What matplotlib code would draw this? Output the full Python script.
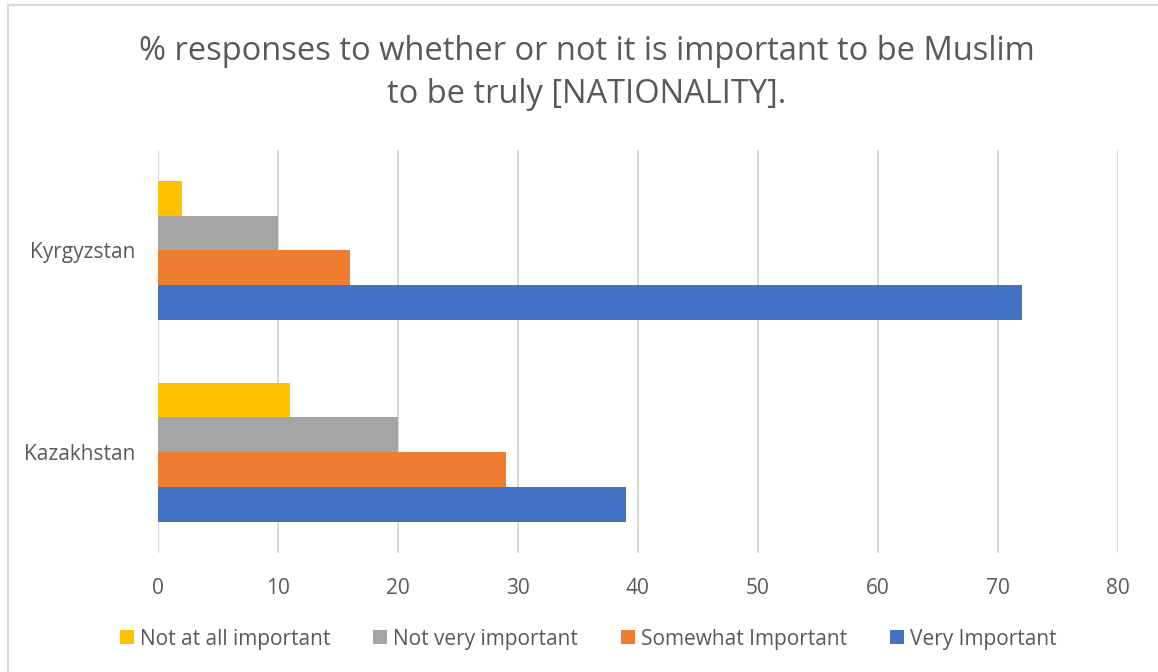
import numpy as np
import matplotlib.pyplot as plt
from matplotlib.patches import Rectangle

# survey shares (%) per country and answer
countries = ['Kazakhstan', 'Kyrgyzstan']
answers = ['Not at all important', 'Not very important', 'Somewhat Important', 'Very Important']
not_at_all = [11, 2]
not_very = [20, 10]
somewhat = [29, 16]
very = [39, 72]
x_ticks = [0, 10, 20, 30, 40, 50, 60, 70, 80]

colors = ['#FFC000', '#A5A5A5', '#ED7D31', '#4472C4']
text_color = '#595959'
grid_color = '#D9D9D9'

plt.rcParams['font.family'] = ['Open Sans', 'DejaVu Sans']

fig = plt.figure(figsize=(11.58, 6.72), dpi=100)
ax = fig.add_axes([0.1362, 0.1771, 0.8291, 0.6004])

# chart border
fig.patches.append(Rectangle((8 / 1158, -0.05), 1.2, 1 - 5 / 672 + 0.05,
                             transform=fig.transFigure, fill=False,
                             edgecolor=grid_color, linewidth=1.6))

y = np.arange(len(countries))
h = 0.172
series = [not_at_all, not_very, somewhat, very]
offsets = [1.5 * h, 0.5 * h, -0.5 * h, -1.5 * h]
for vals, off, col, lab in zip(series, offsets, colors, answers):
    ax.barh(y + off, vals, height=h, color=col, label=lab, zorder=3)

ax.set_xlim(0, 80)
ax.set_ylim(-0.5, 1.5)
ax.set_xticks(x_ticks)
ax.set_yticks(y)
ax.set_yticklabels(countries)
ax.tick_params(axis='both', length=0, labelsize=15, labelcolor=text_color)
ax.tick_params(axis='x', pad=18)
ax.tick_params(axis='y', pad=16)
ax.grid(axis='x', color=grid_color, linewidth=1.5, zorder=0)
for s in ax.spines.values():
    s.set_visible(False)

fig.text(0.507, 0.891, '% responses to whether or not it is important to be Muslim\nto be truly [NATIONALITY].',
         ha='center', va='center', fontsize=23.5, color=text_color, linespacing=1.42)

fig.legend(loc='center', bbox_to_anchor=(0.508, 0.049), ncol=4,
           frameon=False, fontsize=15, labelcolor=text_color,
           handlelength=0.67, handleheight=0.67, handletextpad=0.3, columnspacing=2.05)

fig.savefig('out.png', dpi=100)
